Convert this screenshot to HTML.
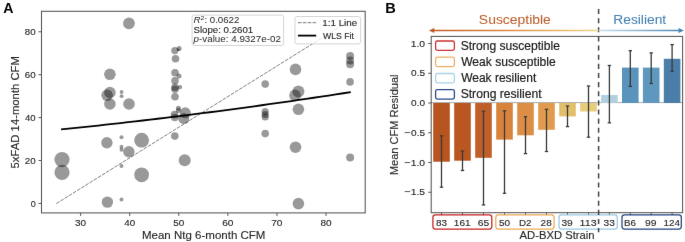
<!DOCTYPE html>
<html><head><meta charset="utf-8"><style>
html,body{margin:0;padding:0;background:#fff;}
svg{display:block;font-family:"Liberation Sans", sans-serif;}
</style></head><body>
<svg width="685" height="242" viewBox="0 0 685 242">
<defs><filter id="soft" x="0" y="0" width="685" height="242" filterUnits="userSpaceOnUse" color-interpolation-filters="sRGB"><feConvolveMatrix order="3" kernelMatrix="0.00250 0.04500 0.00250 0.04500 0.81000 0.04500 0.00250 0.04500 0.00250" edgeMode="duplicate" preserveAlpha="true"/></filter></defs>
<g filter="url(#soft)">
<rect width="685" height="242" fill="#fff"/>
<g>
<rect x="41.5" y="11.3" width="323.7" height="201.6" fill="none" stroke="#555" stroke-width="1.05"/>
<circle cx="62" cy="159.6" r="7.6" fill="#000" fill-opacity="0.4"/>
<circle cx="62" cy="172.4" r="7.6" fill="#000" fill-opacity="0.4"/>
<circle cx="109.9" cy="74.3" r="5.8" fill="#000" fill-opacity="0.4"/>
<circle cx="109.9" cy="92.5" r="5.8" fill="#000" fill-opacity="0.4"/>
<circle cx="107.1" cy="95.3" r="5.8" fill="#000" fill-opacity="0.4"/>
<circle cx="109.9" cy="104" r="5.8" fill="#000" fill-opacity="0.4"/>
<circle cx="106.9" cy="142.7" r="5.7" fill="#000" fill-opacity="0.4"/>
<circle cx="107.4" cy="202.1" r="5.7" fill="#000" fill-opacity="0.4"/>
<circle cx="121.6" cy="92" r="1.9" fill="#000" fill-opacity="0.4"/>
<circle cx="121.6" cy="96.2" r="1.9" fill="#000" fill-opacity="0.4"/>
<circle cx="121.5" cy="137.3" r="2" fill="#000" fill-opacity="0.4"/>
<circle cx="121.5" cy="146.7" r="2" fill="#000" fill-opacity="0.4"/>
<circle cx="121.5" cy="149.7" r="2" fill="#000" fill-opacity="0.4"/>
<circle cx="121.5" cy="165.9" r="2" fill="#000" fill-opacity="0.4"/>
<circle cx="121.5" cy="199.6" r="2" fill="#000" fill-opacity="0.4"/>
<circle cx="128.95" cy="23.35" r="5.9" fill="#000" fill-opacity="0.4"/>
<circle cx="129" cy="104" r="5.8" fill="#000" fill-opacity="0.4"/>
<circle cx="128.9" cy="151.7" r="5.7" fill="#000" fill-opacity="0.4"/>
<circle cx="141.6" cy="140.2" r="7.4" fill="#000" fill-opacity="0.4"/>
<circle cx="141.6" cy="174.8" r="7.4" fill="#000" fill-opacity="0.4"/>
<circle cx="174.8" cy="50.6" r="3.6" fill="#000" fill-opacity="0.4"/>
<circle cx="175.5" cy="58.8" r="3.8" fill="#000" fill-opacity="0.4"/>
<circle cx="175" cy="72.8" r="3.8" fill="#000" fill-opacity="0.4"/>
<circle cx="175" cy="80.8" r="3.8" fill="#000" fill-opacity="0.4"/>
<circle cx="175" cy="87.3" r="3.8" fill="#000" fill-opacity="0.4"/>
<circle cx="175" cy="89.3" r="3.8" fill="#000" fill-opacity="0.4"/>
<circle cx="175" cy="96.7" r="3.8" fill="#000" fill-opacity="0.4"/>
<circle cx="174.5" cy="114.5" r="3.8" fill="#000" fill-opacity="0.4"/>
<circle cx="174.8" cy="117.5" r="3.8" fill="#000" fill-opacity="0.4"/>
<circle cx="174.8" cy="136.1" r="3.8" fill="#000" fill-opacity="0.4"/>
<circle cx="179.1" cy="48.4" r="2.5" fill="#000" fill-opacity="0.4"/>
<circle cx="178.3" cy="49.8" r="1.4" fill="#000" fill-opacity="0.4"/>
<circle cx="179" cy="75.9" r="2.5" fill="#000" fill-opacity="0.4"/>
<circle cx="180" cy="87.1" r="2.2" fill="#000" fill-opacity="0.4"/>
<circle cx="178.4" cy="108.2" r="2.5" fill="#000" fill-opacity="0.4"/>
<circle cx="178.4" cy="110.4" r="2.5" fill="#000" fill-opacity="0.4"/>
<circle cx="185.3" cy="112.8" r="5.5" fill="#000" fill-opacity="0.4"/>
<circle cx="183.8" cy="118.6" r="5.5" fill="#000" fill-opacity="0.4"/>
<circle cx="184.7" cy="160.2" r="6" fill="#000" fill-opacity="0.4"/>
<circle cx="265.2" cy="84.1" r="3.8" fill="#000" fill-opacity="0.4"/>
<circle cx="265.2" cy="111.5" r="3.6" fill="#000" fill-opacity="0.4"/>
<circle cx="265.2" cy="114.5" r="3.6" fill="#000" fill-opacity="0.4"/>
<circle cx="265.2" cy="117" r="3.6" fill="#000" fill-opacity="0.4"/>
<circle cx="265.2" cy="133.6" r="3.8" fill="#000" fill-opacity="0.4"/>
<circle cx="295.5" cy="69.4" r="5.8" fill="#000" fill-opacity="0.4"/>
<circle cx="298.4" cy="91.4" r="6.0" fill="#000" fill-opacity="0.4"/>
<circle cx="295" cy="95.4" r="5.8" fill="#000" fill-opacity="0.4"/>
<circle cx="298.4" cy="109.3" r="5.8" fill="#000" fill-opacity="0.4"/>
<circle cx="295.5" cy="147.2" r="5.8" fill="#000" fill-opacity="0.4"/>
<circle cx="298.4" cy="203.6" r="5.8" fill="#000" fill-opacity="0.4"/>
<circle cx="350.1" cy="55.9" r="4" fill="#000" fill-opacity="0.4"/>
<circle cx="350.1" cy="60.5" r="4" fill="#000" fill-opacity="0.4"/>
<circle cx="350.1" cy="64.2" r="4" fill="#000" fill-opacity="0.4"/>
<circle cx="350.1" cy="81.9" r="3.8" fill="#000" fill-opacity="0.4"/>
<circle cx="350.1" cy="157.5" r="4" fill="#000" fill-opacity="0.4"/>
<line x1="56.3" y1="203.6" x2="350.6" y2="20.1" stroke="#3a3a3a" stroke-width="0.65" stroke-dasharray="3.7,1.2"/>
<polyline points="61.10,129.43 68.53,128.67 75.96,127.90 83.38,127.12 90.81,126.33 98.24,125.52 105.67,124.71 113.10,123.89 120.53,123.06 127.95,122.21 135.38,121.36 142.81,120.50 150.24,119.62 157.67,118.74 165.09,117.84 172.52,116.94 179.95,116.02 187.38,115.10 194.81,114.16 202.24,113.21 209.66,112.26 217.09,111.29 224.52,110.31 231.95,109.32 239.38,108.32 246.81,107.31 254.23,106.29 261.66,105.26 269.09,104.22 276.52,103.17 283.95,102.11 291.37,101.04 298.80,99.96 306.23,98.87 313.66,97.76 321.09,96.65 328.52,95.53 335.94,94.39 343.37,93.25 350.80,92.09" fill="none" stroke="#000" stroke-width="1.8"/>
<line x1="38.5" y1="203.40" x2="41.5" y2="203.40" stroke="#444" stroke-width="0.9"/>
<text x="30.65" y="206.60" font-size="9.3" fill="#262626" textLength="5.00" lengthAdjust="spacingAndGlyphs"  stroke="#262626" stroke-width="0.12">0</text>
<line x1="38.5" y1="160.50" x2="41.5" y2="160.50" stroke="#444" stroke-width="0.9"/>
<text x="24.81" y="163.70" font-size="9.3" fill="#262626" textLength="10.87" lengthAdjust="spacingAndGlyphs"  stroke="#262626" stroke-width="0.12">20</text>
<line x1="38.5" y1="117.60" x2="41.5" y2="117.60" stroke="#444" stroke-width="0.9"/>
<text x="25.08" y="120.80" font-size="9.3" fill="#262626" textLength="10.59" lengthAdjust="spacingAndGlyphs"  stroke="#262626" stroke-width="0.12">40</text>
<line x1="38.5" y1="74.70" x2="41.5" y2="74.70" stroke="#444" stroke-width="0.9"/>
<text x="24.80" y="77.90" font-size="9.3" fill="#262626" textLength="10.88" lengthAdjust="spacingAndGlyphs"  stroke="#262626" stroke-width="0.12">60</text>
<line x1="38.5" y1="31.80" x2="41.5" y2="31.80" stroke="#444" stroke-width="0.9"/>
<text x="24.88" y="35.00" font-size="9.3" fill="#262626" textLength="10.80" lengthAdjust="spacingAndGlyphs"  stroke="#262626" stroke-width="0.12">80</text>
<line x1="80.62" y1="212.9" x2="80.62" y2="215.9" stroke="#444" stroke-width="0.9"/>
<text x="75.09" y="225.80" font-size="9.3" fill="#262626" textLength="11.07" lengthAdjust="spacingAndGlyphs"  stroke="#262626" stroke-width="0.12">30</text>
<line x1="129.70" y1="212.9" x2="129.70" y2="215.9" stroke="#444" stroke-width="0.9"/>
<text x="124.32" y="225.80" font-size="9.3" fill="#262626" textLength="10.91" lengthAdjust="spacingAndGlyphs"  stroke="#262626" stroke-width="0.12">40</text>
<line x1="178.78" y1="212.9" x2="178.78" y2="215.9" stroke="#444" stroke-width="0.9"/>
<text x="173.23" y="225.80" font-size="9.3" fill="#262626" textLength="11.09" lengthAdjust="spacingAndGlyphs"  stroke="#262626" stroke-width="0.12">50</text>
<line x1="227.86" y1="212.9" x2="227.86" y2="215.9" stroke="#444" stroke-width="0.9"/>
<text x="222.20" y="225.80" font-size="9.3" fill="#262626" textLength="11.21" lengthAdjust="spacingAndGlyphs"  stroke="#262626" stroke-width="0.12">60</text>
<line x1="276.94" y1="212.9" x2="276.94" y2="215.9" stroke="#444" stroke-width="0.9"/>
<text x="271.28" y="225.80" font-size="9.3" fill="#262626" textLength="11.21" lengthAdjust="spacingAndGlyphs"  stroke="#262626" stroke-width="0.12">70</text>
<line x1="326.02" y1="212.9" x2="326.02" y2="215.9" stroke="#444" stroke-width="0.9"/>
<text x="320.44" y="225.80" font-size="9.3" fill="#262626" textLength="11.12" lengthAdjust="spacingAndGlyphs"  stroke="#262626" stroke-width="0.12">80</text>
<text x="141.96" y="238.60" font-size="10.6" fill="#262626" textLength="123.48" lengthAdjust="spacingAndGlyphs"  stroke="#262626" stroke-width="0.12">Mean Ntg 6-month CFM</text>
<text transform="rotate(-90)" x="-168.45" y="18.90" font-size="10.3" fill="#262626" textLength="112.38" lengthAdjust="spacingAndGlyphs"  stroke="#262626" stroke-width="0.12">5xFAD 14-month CFM</text>
<text x="3.15" y="12.50" font-size="13.8" fill="#000" font-weight="bold" textLength="10.22" lengthAdjust="spacingAndGlyphs" >A</text>
<rect x="192.1" y="15.1" width="91.5" height="30.4" rx="2" fill="#fff" fill-opacity="0.8" stroke="#d0d0d0" stroke-width="0.9"/>
<text x="193.6" y="23.2" font-size="8.8" fill="#262626" textLength="45.8" lengthAdjust="spacingAndGlyphs"><tspan font-style="italic">R</tspan><tspan dy="-3.2" font-size="6.2">2</tspan><tspan dy="3.2">: 0.0622</tspan></text>
<text x="193.45" y="32.80" font-size="8.8" fill="#262626" textLength="59.82" lengthAdjust="spacingAndGlyphs"  stroke="#262626" stroke-width="0.12">Slope: 0.2601</text>
<text x="193.6" y="42.2" font-size="8.8" fill="#262626" textLength="87.3" lengthAdjust="spacingAndGlyphs"><tspan font-style="italic">p</tspan>-value: 4.9327e-02</text>
<rect x="295" y="16.5" width="65.6" height="27.4" rx="2" fill="#fff" fill-opacity="0.8" stroke="#d0d0d0" stroke-width="0.9"/>
<line x1="297.9" y1="22.7" x2="316.2" y2="22.7" stroke="#555" stroke-width="0.8" stroke-dasharray="3.6,1.3"/>
<line x1="297.9" y1="35.6" x2="316.2" y2="35.6" stroke="#000" stroke-width="1.8"/>
<text x="322.25" y="26.20" font-size="8.6" fill="#262626" textLength="34.99" lengthAdjust="spacingAndGlyphs"  stroke="#262626" stroke-width="0.12">1:1 Line</text>
<text x="322.96" y="38.80" font-size="8.6" fill="#262626" textLength="31.00" lengthAdjust="spacingAndGlyphs"  stroke="#262626" stroke-width="0.12">WLS Fit</text>
</g>
<g>
<line x1="431.2" y1="102.6" x2="682.6" y2="102.6" stroke="#aaa" stroke-width="1"/>
<rect x="433.2" y="103.00" width="16.6" height="58.70" fill="#b7541f"/>
<rect x="454.2" y="103.00" width="16.6" height="57.70" fill="#b95621"/>
<rect x="475.2" y="103.00" width="16.6" height="54.80" fill="#c05f29"/>
<rect x="496.2" y="103.00" width="16.6" height="36.60" fill="#d9843d"/>
<rect x="517.2" y="103.00" width="16.6" height="32.30" fill="#dd8e45"/>
<rect x="538.2" y="103.00" width="16.6" height="26.80" fill="#e19b4e"/>
<rect x="559.2" y="103.00" width="16.6" height="13.40" fill="#e2bf6a"/>
<rect x="580.2" y="103.00" width="16.6" height="8.50" fill="#e8cd7c"/>
<rect x="601.1" y="95.00" width="16.6" height="8.00" fill="#b0d0e0"/>
<rect x="622.0" y="67.60" width="16.6" height="35.40" fill="#5a93bb"/>
<rect x="642.9000000000001" y="67.60" width="16.6" height="35.40" fill="#5f98bf"/>
<rect x="663.8000000000001" y="58.80" width="16.6" height="44.20" fill="#4a7ea9"/>
<line x1="441.5" y1="135.8" x2="441.5" y2="187.2" stroke="#3a3a3a" stroke-width="1.3"/>
<line x1="439.8" y1="135.8" x2="443.2" y2="135.8" stroke="#3a3a3a" stroke-width="1.3"/>
<line x1="439.8" y1="187.2" x2="443.2" y2="187.2" stroke="#3a3a3a" stroke-width="1.3"/>
<line x1="462.5" y1="151.1" x2="462.5" y2="170.5" stroke="#3a3a3a" stroke-width="1.3"/>
<line x1="460.8" y1="151.1" x2="464.2" y2="151.1" stroke="#3a3a3a" stroke-width="1.3"/>
<line x1="460.8" y1="170.5" x2="464.2" y2="170.5" stroke="#3a3a3a" stroke-width="1.3"/>
<line x1="483.5" y1="111.2" x2="483.5" y2="204.9" stroke="#3a3a3a" stroke-width="1.3"/>
<line x1="481.8" y1="111.2" x2="485.2" y2="111.2" stroke="#3a3a3a" stroke-width="1.3"/>
<line x1="481.8" y1="204.9" x2="485.2" y2="204.9" stroke="#3a3a3a" stroke-width="1.3"/>
<line x1="504.5" y1="110.8" x2="504.5" y2="193.3" stroke="#3a3a3a" stroke-width="1.3"/>
<line x1="502.8" y1="110.8" x2="506.2" y2="110.8" stroke="#3a3a3a" stroke-width="1.3"/>
<line x1="502.8" y1="193.3" x2="506.2" y2="193.3" stroke="#3a3a3a" stroke-width="1.3"/>
<line x1="525.5" y1="116.7" x2="525.5" y2="153.6" stroke="#3a3a3a" stroke-width="1.3"/>
<line x1="523.8" y1="116.7" x2="527.2" y2="116.7" stroke="#3a3a3a" stroke-width="1.3"/>
<line x1="523.8" y1="153.6" x2="527.2" y2="153.6" stroke="#3a3a3a" stroke-width="1.3"/>
<line x1="546.5" y1="109.3" x2="546.5" y2="151.5" stroke="#3a3a3a" stroke-width="1.3"/>
<line x1="544.8" y1="109.3" x2="548.2" y2="109.3" stroke="#3a3a3a" stroke-width="1.3"/>
<line x1="544.8" y1="151.5" x2="548.2" y2="151.5" stroke="#3a3a3a" stroke-width="1.3"/>
<line x1="567.5" y1="106.0" x2="567.5" y2="126.6" stroke="#3a3a3a" stroke-width="1.3"/>
<line x1="565.8" y1="106.0" x2="569.2" y2="106.0" stroke="#3a3a3a" stroke-width="1.3"/>
<line x1="565.8" y1="126.6" x2="569.2" y2="126.6" stroke="#3a3a3a" stroke-width="1.3"/>
<line x1="588.5" y1="86.0" x2="588.5" y2="137.2" stroke="#3a3a3a" stroke-width="1.3"/>
<line x1="586.8" y1="86.0" x2="590.2" y2="86.0" stroke="#3a3a3a" stroke-width="1.3"/>
<line x1="586.8" y1="137.2" x2="590.2" y2="137.2" stroke="#3a3a3a" stroke-width="1.3"/>
<line x1="609.4" y1="65.5" x2="609.4" y2="122.8" stroke="#3a3a3a" stroke-width="1.3"/>
<line x1="607.6999999999999" y1="65.5" x2="611.1" y2="65.5" stroke="#3a3a3a" stroke-width="1.3"/>
<line x1="607.6999999999999" y1="122.8" x2="611.1" y2="122.8" stroke="#3a3a3a" stroke-width="1.3"/>
<line x1="630.3" y1="50.7" x2="630.3" y2="86.4" stroke="#3a3a3a" stroke-width="1.3"/>
<line x1="628.5999999999999" y1="50.7" x2="632.0" y2="50.7" stroke="#3a3a3a" stroke-width="1.3"/>
<line x1="628.5999999999999" y1="86.4" x2="632.0" y2="86.4" stroke="#3a3a3a" stroke-width="1.3"/>
<line x1="651.2" y1="52.9" x2="651.2" y2="83.5" stroke="#3a3a3a" stroke-width="1.3"/>
<line x1="649.5" y1="52.9" x2="652.9000000000001" y2="52.9" stroke="#3a3a3a" stroke-width="1.3"/>
<line x1="649.5" y1="83.5" x2="652.9000000000001" y2="83.5" stroke="#3a3a3a" stroke-width="1.3"/>
<line x1="672.1" y1="44.6" x2="672.1" y2="71.4" stroke="#3a3a3a" stroke-width="1.3"/>
<line x1="670.4" y1="44.6" x2="673.8000000000001" y2="44.6" stroke="#3a3a3a" stroke-width="1.3"/>
<line x1="670.4" y1="71.4" x2="673.8000000000001" y2="71.4" stroke="#3a3a3a" stroke-width="1.3"/>
<rect x="431.2" y="36.4" width="251.40000000000003" height="176.29999999999998" fill="none" stroke="#555" stroke-width="1.05"/>
<line x1="428.2" y1="43.50" x2="431.2" y2="43.50" stroke="#444" stroke-width="0.9"/>
<text x="410.71" y="46.70" font-size="9.2" fill="#262626" textLength="14.39" lengthAdjust="spacingAndGlyphs"  stroke="#262626" stroke-width="0.12">1.0</text>
<line x1="428.2" y1="73.25" x2="431.2" y2="73.25" stroke="#444" stroke-width="0.9"/>
<text x="411.11" y="76.45" font-size="9.2" fill="#262626" textLength="14.02" lengthAdjust="spacingAndGlyphs"  stroke="#262626" stroke-width="0.12">0.5</text>
<line x1="428.2" y1="103.00" x2="431.2" y2="103.00" stroke="#444" stroke-width="0.9"/>
<text x="411.11" y="106.20" font-size="9.2" fill="#262626" textLength="13.99" lengthAdjust="spacingAndGlyphs"  stroke="#262626" stroke-width="0.12">0.0</text>
<line x1="428.2" y1="132.75" x2="431.2" y2="132.75" stroke="#444" stroke-width="0.9"/>
<text x="411.11" y="135.95" font-size="9.2" fill="#262626" textLength="14.02" lengthAdjust="spacingAndGlyphs"  stroke="#262626" stroke-width="0.12">0.5</text>
<text x="404.17" y="135.95" font-size="9.2" fill="#262626" textLength="6.37" lengthAdjust="spacingAndGlyphs"  stroke="#262626" stroke-width="0.12">−</text>
<line x1="428.2" y1="162.50" x2="431.2" y2="162.50" stroke="#444" stroke-width="0.9"/>
<text x="410.71" y="165.70" font-size="9.2" fill="#262626" textLength="14.39" lengthAdjust="spacingAndGlyphs"  stroke="#262626" stroke-width="0.12">1.0</text>
<text x="404.17" y="165.70" font-size="9.2" fill="#262626" textLength="6.37" lengthAdjust="spacingAndGlyphs"  stroke="#262626" stroke-width="0.12">−</text>
<line x1="428.2" y1="192.25" x2="431.2" y2="192.25" stroke="#444" stroke-width="0.9"/>
<text x="410.71" y="195.45" font-size="9.2" fill="#262626" textLength="14.43" lengthAdjust="spacingAndGlyphs"  stroke="#262626" stroke-width="0.12">1.5</text>
<text x="404.17" y="195.45" font-size="9.2" fill="#262626" textLength="6.37" lengthAdjust="spacingAndGlyphs"  stroke="#262626" stroke-width="0.12">−</text>
<rect x="435.6" y="41.0" width="18.8" height="9.4" rx="1.8" fill="#fff" stroke="#cc3333" stroke-width="1.3"/>
<rect x="435.6" y="57.2" width="18.8" height="9.4" rx="1.8" fill="#fff" stroke="#f0b066" stroke-width="1.3"/>
<rect x="435.6" y="73.5" width="18.8" height="9.4" rx="1.8" fill="#fff" stroke="#a8d4ea" stroke-width="1.3"/>
<rect x="435.6" y="89.7" width="18.8" height="9.4" rx="1.8" fill="#fff" stroke="#2b4a88" stroke-width="1.3"/>
<text x="460.64" y="49.90" font-size="12.2" fill="#1a1a1a" textLength="99.29" lengthAdjust="spacingAndGlyphs"  stroke="#1a1a1a" stroke-width="0.18">Strong susceptible</text>
<text x="461.14" y="65.80" font-size="12.2" fill="#1a1a1a" textLength="94.59" lengthAdjust="spacingAndGlyphs"  stroke="#1a1a1a" stroke-width="0.18">Weak susceptible</text>
<text x="461.14" y="82.40" font-size="12.2" fill="#1a1a1a" textLength="75.14" lengthAdjust="spacingAndGlyphs"  stroke="#1a1a1a" stroke-width="0.18">Weak resilient</text>
<text x="460.64" y="98.30" font-size="12.2" fill="#1a1a1a" textLength="80.94" lengthAdjust="spacingAndGlyphs"  stroke="#1a1a1a" stroke-width="0.18">Strong resilient</text>
<line x1="441.5" y1="212.7" x2="441.5" y2="215.1" stroke="#444" stroke-width="0.9"/>
<text x="435.97" y="225.70" font-size="9.3" fill="#262626" textLength="11.07" lengthAdjust="spacingAndGlyphs"  stroke="#262626" stroke-width="0.12">83</text>
<line x1="462.5" y1="212.7" x2="462.5" y2="215.1" stroke="#444" stroke-width="0.9"/>
<text x="453.84" y="225.70" font-size="9.3" fill="#262626" textLength="16.76" lengthAdjust="spacingAndGlyphs"  stroke="#262626" stroke-width="0.12">161</text>
<line x1="483.5" y1="212.7" x2="483.5" y2="215.1" stroke="#444" stroke-width="0.9"/>
<text x="477.67" y="225.70" font-size="9.3" fill="#262626" textLength="11.46" lengthAdjust="spacingAndGlyphs"  stroke="#262626" stroke-width="0.12">65</text>
<line x1="504.5" y1="212.7" x2="504.5" y2="215.1" stroke="#444" stroke-width="0.9"/>
<text x="498.90" y="225.70" font-size="9.3" fill="#262626" textLength="11.09" lengthAdjust="spacingAndGlyphs"  stroke="#262626" stroke-width="0.12">50</text>
<line x1="525.5" y1="212.7" x2="525.5" y2="215.1" stroke="#444" stroke-width="0.9"/>
<text x="518.90" y="225.70" font-size="9.3" fill="#262626" textLength="12.49" lengthAdjust="spacingAndGlyphs"  stroke="#262626" stroke-width="0.12">D2</text>
<line x1="546.5" y1="212.7" x2="546.5" y2="215.1" stroke="#444" stroke-width="0.9"/>
<text x="540.60" y="225.70" font-size="9.3" fill="#262626" textLength="11.13" lengthAdjust="spacingAndGlyphs"  stroke="#262626" stroke-width="0.12">28</text>
<line x1="567.5" y1="212.7" x2="567.5" y2="215.1" stroke="#444" stroke-width="0.9"/>
<text x="561.41" y="225.70" font-size="9.3" fill="#262626" textLength="11.37" lengthAdjust="spacingAndGlyphs"  stroke="#262626" stroke-width="0.12">39</text>
<line x1="588.5" y1="212.7" x2="588.5" y2="215.1" stroke="#444" stroke-width="0.9"/>
<text x="579.59" y="225.70" font-size="9.3" fill="#262626" textLength="16.98" lengthAdjust="spacingAndGlyphs"  stroke="#262626" stroke-width="0.12">113</text>
<line x1="609.4" y1="212.7" x2="609.4" y2="215.1" stroke="#444" stroke-width="0.9"/>
<text x="603.51" y="225.70" font-size="9.3" fill="#262626" textLength="11.34" lengthAdjust="spacingAndGlyphs"  stroke="#262626" stroke-width="0.12">33</text>
<line x1="630.3" y1="212.7" x2="630.3" y2="215.1" stroke="#444" stroke-width="0.9"/>
<text x="623.90" y="225.70" font-size="9.3" fill="#262626" textLength="11.93" lengthAdjust="spacingAndGlyphs"  stroke="#262626" stroke-width="0.12">B6</text>
<line x1="651.2" y1="212.7" x2="651.2" y2="215.1" stroke="#444" stroke-width="0.9"/>
<text x="644.92" y="225.70" font-size="9.3" fill="#262626" textLength="11.47" lengthAdjust="spacingAndGlyphs"  stroke="#262626" stroke-width="0.12">99</text>
<line x1="672.1" y1="212.7" x2="672.1" y2="215.1" stroke="#444" stroke-width="0.9"/>
<text x="663.55" y="225.70" font-size="9.3" fill="#262626" textLength="16.44" lengthAdjust="spacingAndGlyphs"  stroke="#262626" stroke-width="0.12">124</text>
<rect x="432.90000000000003" y="214.9" width="58.89999999999996" height="14.2" rx="2.5" fill="none" stroke="#c62222" stroke-width="1.25"/>
<rect x="495.8" y="214.9" width="58.300000000000054" height="14.2" rx="2.5" fill="none" stroke="#eeaa55" stroke-width="1.25"/>
<rect x="559.0" y="214.9" width="58.3" height="14.2" rx="2.5" fill="none" stroke="#98c9e4" stroke-width="1.25"/>
<rect x="622.0" y="214.9" width="59.3" height="14.2" rx="2.5" fill="none" stroke="#244683" stroke-width="1.25"/>
<line x1="598.6" y1="9" x2="598.6" y2="232.2" stroke="#444" stroke-width="1.5" stroke-dasharray="5.1,4.03"/>
<defs><linearGradient id="go" x1="429" x2="598.7" y1="0" y2="0" gradientUnits="userSpaceOnUse"><stop offset="0" stop-color="#bf5b26"/><stop offset="0.45" stop-color="#d98a42"/><stop offset="0.75" stop-color="#e8b466"/><stop offset="1" stop-color="#eed48a"/></linearGradient><linearGradient id="gb" x1="599" x2="684" y1="0" y2="0" gradientUnits="userSpaceOnUse"><stop offset="0" stop-color="#c6e0ee"/><stop offset="1" stop-color="#4a84b5"/></linearGradient></defs>
<line x1="433" y1="30.6" x2="598.6" y2="30.6" stroke="url(#go)" stroke-width="1.5"/>
<path d="M428.9,30.6 L434.3,28.1 L434.3,33.1 Z" fill="#bf5b26"/>
<line x1="599.2" y1="30.4" x2="680" y2="30.4" stroke="url(#gb)" stroke-width="1.5"/>
<path d="M684,30.4 L678.6,27.9 L678.6,32.9 Z" fill="#4a84b5"/>
<text x="478.86" y="23.80" font-size="13.0" fill="#bd602c" textLength="71.95" lengthAdjust="spacingAndGlyphs"  stroke="#bd602c" stroke-width="0.05">Susceptible</text>
<text x="613.27" y="23.80" font-size="13.4" fill="#4682b4" textLength="52.93" lengthAdjust="spacingAndGlyphs"  stroke="#4682b4" stroke-width="0.05">Resilient</text>
<text x="519.58" y="238.50" font-size="10.5" fill="#262626" textLength="74.96" lengthAdjust="spacingAndGlyphs"  stroke="#262626" stroke-width="0.12">AD-BXD Strain</text>
<text transform="rotate(-90)" x="-175.11" y="397.80" font-size="10.4" fill="#262626" textLength="100.65" lengthAdjust="spacingAndGlyphs"  stroke="#262626" stroke-width="0.12">Mean CFM Residual</text>
<text x="385.22" y="12.50" font-size="13.8" fill="#000" font-weight="bold" textLength="10.54" lengthAdjust="spacingAndGlyphs" >B</text>
</g>
</g>
</svg>
</body></html>
